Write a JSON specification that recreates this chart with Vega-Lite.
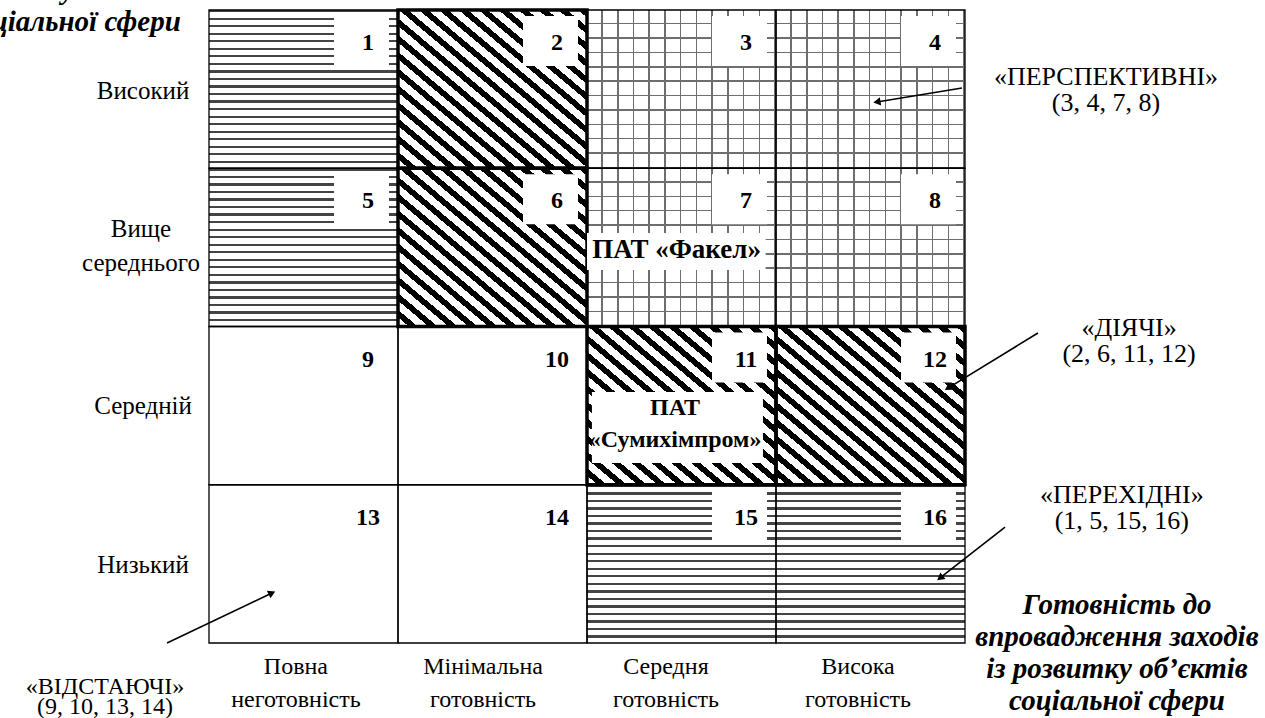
{
  "$schema": "https://vega.github.io/schema/vega-lite/v6.json",
  "width": 1265,
  "height": 718,
  "padding": 0,
  "autosize": "none",
  "background": "white",
  "config": {"view": {"stroke": null}, "text": {"font": "Liberation Serif", "fill": "#000"}},
  "datasets": {
    "cells": [
      {"n": 1, "c": 0, "c2": 1, "r": 0, "r2": 1, "g": "w"},
      {"n": 2, "c": 1, "c2": 2, "r": 0, "r2": 1, "g": "s"},
      {"n": 3, "c": 2, "c2": 3, "r": 0, "r2": 1, "g": "d"},
      {"n": 4, "c": 3, "c2": 4, "r": 0, "r2": 1, "g": "d"},
      {"n": 5, "c": 0, "c2": 1, "r": 1, "r2": 2, "g": "w"},
      {"n": 6, "c": 1, "c2": 2, "r": 1, "r2": 2, "g": "s"},
      {"n": 7, "c": 2, "c2": 3, "r": 1, "r2": 2, "g": "d"},
      {"n": 8, "c": 3, "c2": 4, "r": 1, "r2": 2, "g": "d"},
      {"n": 9, "c": 0, "c2": 1, "r": 2, "r2": 3, "g": "p"},
      {"n": 10, "c": 1, "c2": 2, "r": 2, "r2": 3, "g": "p"},
      {"n": 11, "c": 2, "c2": 3, "r": 2, "r2": 3, "g": "s"},
      {"n": 12, "c": 3, "c2": 4, "r": 2, "r2": 3, "g": "s"},
      {"n": 13, "c": 0, "c2": 1, "r": 3, "r2": 4, "g": "p"},
      {"n": 14, "c": 1, "c2": 2, "r": 3, "r2": 4, "g": "p"},
      {"n": 15, "c": 2, "c2": 3, "r": 3, "r2": 4, "g": "w"},
      {"n": 16, "c": 3, "c2": 4, "r": 3, "r2": 4, "g": "w"}
    ],
    "companies": [
      {"k": "f", "name": "ПАТ «Факел»", "x": 2.474, "y": 1.517, "bx": 2.0, "bx2": 2.945, "by": 1.409, "by2": 1.643},
      {"k": "s", "name": "ПАТ\n«Сумихімпром»", "x": 2.466, "y": 2.515, "bx": 2.026, "bx2": 2.931, "by": 2.414, "by2": 2.863}
    ],
    "rowlabels": [
      {"t": "Високий", "x": -0.349, "y": 0.51},
      {"t": "Вище\nсереднього", "x": -0.36, "y": 1.384},
      {"t": "Середній", "x": -0.349, "y": 2.5},
      {"t": "Низький", "x": -0.349, "y": 3.505}
    ],
    "collabels": [
      {"t": "Повна\nнеготовність", "x": 0.46, "y": 4.152},
      {"t": "Мінімальна\nготовність", "x": 1.45, "y": 4.152},
      {"t": "Середня\nготовність", "x": 2.418, "y": 4.152},
      {"t": "Висока\nготовність", "x": 3.434, "y": 4.152}
    ],
    "notes": [
      {"k": "a", "t": "«ПЕРСПЕКТИВНІ»\n(3, 4, 7, 8)", "x": 4.746, "y": 0.4234},
      {"k": "a", "t": "«ДІЯЧІ»\n(2, 6, 11, 12)", "x": 4.868, "y": 2.009},
      {"k": "a", "t": "«ПЕРЕХІДНІ»\n(1, 5, 15, 16)", "x": 4.83, "y": 3.065},
      {"k": "b", "t": "«ВІДСТАЮЧІ»\n(9, 10, 13, 14)", "x": -0.55, "y": 4.278}
    ],
    "titles": [
      {"t": "Рівень\nрозвитку об’єктів\nсоціальної сфери", "x": -0.72, "y": -0.3286},
      {"t": "Готовність до\nвпровадження заходів\nіз розвитку об’єктів\nсоціальної сфери", "x": 4.804, "y": 3.76}
    ],
    "arrows": [
      {"id": "p", "x": 3.984, "y": 0.4929, "x2": 3.534, "y2": 0.5814},
      {"id": "d", "x": 4.386, "y": 2.041, "x2": 3.91, "y2": 2.389},
      {"id": "t", "x": 4.212, "y": 3.267, "x2": 3.868, "y2": 3.589},
      {"id": "v", "x": -0.222, "y": 4.0, "x2": 0.333, "y2": 3.684}
    ]
  },
  "layer": [
    {
      "data": {"name": "cells"},
      "transform": [{"filter": "datum.g == 'w'"}],
      "mark": {"type": "rect", "stroke": null, "fill": {"gradient": "linear", "x1": 0, "y1": 0, "x2": 0, "y2": 1, "stops": [
        {"offset": 0, "color": "#444"}, {"offset": 0.0143, "color": "#444"}, {"offset": 0.0143, "color": "#fff"}, {"offset": 0.0476, "color": "#fff"},
        {"offset": 0.0476, "color": "#444"}, {"offset": 0.0619, "color": "#444"}, {"offset": 0.0619, "color": "#fff"}, {"offset": 0.0952, "color": "#fff"},
        {"offset": 0.0952, "color": "#444"}, {"offset": 0.1095, "color": "#444"}, {"offset": 0.1095, "color": "#fff"}, {"offset": 0.1429, "color": "#fff"},
        {"offset": 0.1429, "color": "#444"}, {"offset": 0.1571, "color": "#444"}, {"offset": 0.1571, "color": "#fff"}, {"offset": 0.1905, "color": "#fff"},
        {"offset": 0.1905, "color": "#444"}, {"offset": 0.2048, "color": "#444"}, {"offset": 0.2048, "color": "#fff"}, {"offset": 0.2381, "color": "#fff"},
        {"offset": 0.2381, "color": "#444"}, {"offset": 0.2524, "color": "#444"}, {"offset": 0.2524, "color": "#fff"}, {"offset": 0.2857, "color": "#fff"},
        {"offset": 0.2857, "color": "#444"}, {"offset": 0.3, "color": "#444"}, {"offset": 0.3, "color": "#fff"}, {"offset": 0.3333, "color": "#fff"},
        {"offset": 0.3333, "color": "#444"}, {"offset": 0.3476, "color": "#444"}, {"offset": 0.3476, "color": "#fff"}, {"offset": 0.381, "color": "#fff"},
        {"offset": 0.381, "color": "#444"}, {"offset": 0.3952, "color": "#444"}, {"offset": 0.3952, "color": "#fff"}, {"offset": 0.4286, "color": "#fff"},
        {"offset": 0.4286, "color": "#444"}, {"offset": 0.4429, "color": "#444"}, {"offset": 0.4429, "color": "#fff"}, {"offset": 0.4762, "color": "#fff"},
        {"offset": 0.4762, "color": "#444"}, {"offset": 0.4905, "color": "#444"}, {"offset": 0.4905, "color": "#fff"}, {"offset": 0.5238, "color": "#fff"},
        {"offset": 0.5238, "color": "#444"}, {"offset": 0.5381, "color": "#444"}, {"offset": 0.5381, "color": "#fff"}, {"offset": 0.5714, "color": "#fff"},
        {"offset": 0.5714, "color": "#444"}, {"offset": 0.5857, "color": "#444"}, {"offset": 0.5857, "color": "#fff"}, {"offset": 0.619, "color": "#fff"},
        {"offset": 0.619, "color": "#444"}, {"offset": 0.6333, "color": "#444"}, {"offset": 0.6333, "color": "#fff"}, {"offset": 0.6667, "color": "#fff"},
        {"offset": 0.6667, "color": "#444"}, {"offset": 0.681, "color": "#444"}, {"offset": 0.681, "color": "#fff"}, {"offset": 0.7143, "color": "#fff"},
        {"offset": 0.7143, "color": "#444"}, {"offset": 0.7286, "color": "#444"}, {"offset": 0.7286, "color": "#fff"}, {"offset": 0.7619, "color": "#fff"},
        {"offset": 0.7619, "color": "#444"}, {"offset": 0.7762, "color": "#444"}, {"offset": 0.7762, "color": "#fff"}, {"offset": 0.8095, "color": "#fff"},
        {"offset": 0.8095, "color": "#444"}, {"offset": 0.8238, "color": "#444"}, {"offset": 0.8238, "color": "#fff"}, {"offset": 0.8571, "color": "#fff"},
        {"offset": 0.8571, "color": "#444"}, {"offset": 0.8714, "color": "#444"}, {"offset": 0.8714, "color": "#fff"}, {"offset": 0.9048, "color": "#fff"},
        {"offset": 0.9048, "color": "#444"}, {"offset": 0.919, "color": "#444"}, {"offset": 0.919, "color": "#fff"}, {"offset": 0.9524, "color": "#fff"},
        {"offset": 0.9524, "color": "#444"}, {"offset": 0.9667, "color": "#444"}, {"offset": 0.9667, "color": "#fff"}, {"offset": 1, "color": "#fff"}
      ]}},
      "encoding": {
        "x": {"field": "c", "type": "quantitative", "scale": {"domain": [-1.1058, 5.5873], "nice": false, "zero": false}, "axis": null},
        "x2": {"field": "c2"},
        "y": {"field": "r", "type": "quantitative", "scale": {"domain": [-0.0632, 4.4739], "nice": false, "zero": false, "reverse": true}, "axis": null},
        "y2": {"field": "r2"}
      }
    },
    {
      "data": {"name": "cells"},
      "transform": [{"filter": "datum.g == 's'"}],
      "mark": {"type": "rect", "stroke": null, "fill": {"gradient": "linear", "x1": 1, "y1": 0, "x2": 0, "y2": 1, "stops": [
        {"offset": 0, "color": "#000"}, {"offset": 0.0237, "color": "#000"}, {"offset": 0.0237, "color": "#fff"}, {"offset": 0.0526, "color": "#fff"},
        {"offset": 0.0526, "color": "#000"}, {"offset": 0.0763, "color": "#000"}, {"offset": 0.0763, "color": "#fff"}, {"offset": 0.1053, "color": "#fff"},
        {"offset": 0.1053, "color": "#000"}, {"offset": 0.1289, "color": "#000"}, {"offset": 0.1289, "color": "#fff"}, {"offset": 0.1579, "color": "#fff"},
        {"offset": 0.1579, "color": "#000"}, {"offset": 0.1816, "color": "#000"}, {"offset": 0.1816, "color": "#fff"}, {"offset": 0.2105, "color": "#fff"},
        {"offset": 0.2105, "color": "#000"}, {"offset": 0.2342, "color": "#000"}, {"offset": 0.2342, "color": "#fff"}, {"offset": 0.2632, "color": "#fff"},
        {"offset": 0.2632, "color": "#000"}, {"offset": 0.2868, "color": "#000"}, {"offset": 0.2868, "color": "#fff"}, {"offset": 0.3158, "color": "#fff"},
        {"offset": 0.3158, "color": "#000"}, {"offset": 0.3395, "color": "#000"}, {"offset": 0.3395, "color": "#fff"}, {"offset": 0.3684, "color": "#fff"},
        {"offset": 0.3684, "color": "#000"}, {"offset": 0.3921, "color": "#000"}, {"offset": 0.3921, "color": "#fff"}, {"offset": 0.4211, "color": "#fff"},
        {"offset": 0.4211, "color": "#000"}, {"offset": 0.4447, "color": "#000"}, {"offset": 0.4447, "color": "#fff"}, {"offset": 0.4737, "color": "#fff"},
        {"offset": 0.4737, "color": "#000"}, {"offset": 0.4974, "color": "#000"}, {"offset": 0.4974, "color": "#fff"}, {"offset": 0.5263, "color": "#fff"},
        {"offset": 0.5263, "color": "#000"}, {"offset": 0.55, "color": "#000"}, {"offset": 0.55, "color": "#fff"}, {"offset": 0.5789, "color": "#fff"},
        {"offset": 0.5789, "color": "#000"}, {"offset": 0.6026, "color": "#000"}, {"offset": 0.6026, "color": "#fff"}, {"offset": 0.6316, "color": "#fff"},
        {"offset": 0.6316, "color": "#000"}, {"offset": 0.6553, "color": "#000"}, {"offset": 0.6553, "color": "#fff"}, {"offset": 0.6842, "color": "#fff"},
        {"offset": 0.6842, "color": "#000"}, {"offset": 0.7079, "color": "#000"}, {"offset": 0.7079, "color": "#fff"}, {"offset": 0.7368, "color": "#fff"},
        {"offset": 0.7368, "color": "#000"}, {"offset": 0.7605, "color": "#000"}, {"offset": 0.7605, "color": "#fff"}, {"offset": 0.7895, "color": "#fff"},
        {"offset": 0.7895, "color": "#000"}, {"offset": 0.8132, "color": "#000"}, {"offset": 0.8132, "color": "#fff"}, {"offset": 0.8421, "color": "#fff"},
        {"offset": 0.8421, "color": "#000"}, {"offset": 0.8658, "color": "#000"}, {"offset": 0.8658, "color": "#fff"}, {"offset": 0.8947, "color": "#fff"},
        {"offset": 0.8947, "color": "#000"}, {"offset": 0.9184, "color": "#000"}, {"offset": 0.9184, "color": "#fff"}, {"offset": 0.9474, "color": "#fff"},
        {"offset": 0.9474, "color": "#000"}, {"offset": 0.9711, "color": "#000"}, {"offset": 0.9711, "color": "#fff"}, {"offset": 1, "color": "#fff"}
      ]}},
      "encoding": {
        "x": {"field": "c", "type": "quantitative", "scale": {"domain": [-1.1058, 5.5873], "nice": false, "zero": false}, "axis": null},
        "x2": {"field": "c2"},
        "y": {"field": "r", "type": "quantitative", "scale": {"domain": [-0.0632, 4.4739], "nice": false, "zero": false, "reverse": true}, "axis": null},
        "y2": {"field": "r2"}
      }
    },
    {
      "data": {"name": "cells"},
      "transform": [{"filter": "datum.g == 'd'"}],
      "mark": {"type": "rect", "stroke": null, "fill": {"gradient": "linear", "x1": 0, "y1": 0, "x2": 1, "y2": 0, "stops": [
        {"offset": 0, "color": "#fff"}, {"offset": 0.075, "color": "#fff"}, {"offset": 0.075, "color": "#6e6e6e"}, {"offset": 0.0833, "color": "#6e6e6e"},
        {"offset": 0.0833, "color": "#fff"}, {"offset": 0.1583, "color": "#fff"}, {"offset": 0.1583, "color": "#6e6e6e"}, {"offset": 0.1667, "color": "#6e6e6e"},
        {"offset": 0.1667, "color": "#fff"}, {"offset": 0.2417, "color": "#fff"}, {"offset": 0.2417, "color": "#6e6e6e"}, {"offset": 0.25, "color": "#6e6e6e"},
        {"offset": 0.25, "color": "#fff"}, {"offset": 0.325, "color": "#fff"}, {"offset": 0.325, "color": "#6e6e6e"}, {"offset": 0.3333, "color": "#6e6e6e"},
        {"offset": 0.3333, "color": "#fff"}, {"offset": 0.4083, "color": "#fff"}, {"offset": 0.4083, "color": "#6e6e6e"}, {"offset": 0.4167, "color": "#6e6e6e"},
        {"offset": 0.4167, "color": "#fff"}, {"offset": 0.4917, "color": "#fff"}, {"offset": 0.4917, "color": "#6e6e6e"}, {"offset": 0.5, "color": "#6e6e6e"},
        {"offset": 0.5, "color": "#fff"}, {"offset": 0.575, "color": "#fff"}, {"offset": 0.575, "color": "#6e6e6e"}, {"offset": 0.5833, "color": "#6e6e6e"},
        {"offset": 0.5833, "color": "#fff"}, {"offset": 0.6583, "color": "#fff"}, {"offset": 0.6583, "color": "#6e6e6e"}, {"offset": 0.6667, "color": "#6e6e6e"},
        {"offset": 0.6667, "color": "#fff"}, {"offset": 0.7417, "color": "#fff"}, {"offset": 0.7417, "color": "#6e6e6e"}, {"offset": 0.75, "color": "#6e6e6e"},
        {"offset": 0.75, "color": "#fff"}, {"offset": 0.825, "color": "#fff"}, {"offset": 0.825, "color": "#6e6e6e"}, {"offset": 0.8333, "color": "#6e6e6e"},
        {"offset": 0.8333, "color": "#fff"}, {"offset": 0.9083, "color": "#fff"}, {"offset": 0.9083, "color": "#6e6e6e"}, {"offset": 0.9167, "color": "#6e6e6e"},
        {"offset": 0.9167, "color": "#fff"}, {"offset": 0.9917, "color": "#fff"}, {"offset": 0.9917, "color": "#6e6e6e"}, {"offset": 1, "color": "#6e6e6e"}
      ]}},
      "encoding": {
        "x": {"field": "c", "type": "quantitative", "scale": {"domain": [-1.1058, 5.5873], "nice": false, "zero": false}, "axis": null},
        "x2": {"field": "c2"},
        "y": {"field": "r", "type": "quantitative", "scale": {"domain": [-0.0632, 4.4739], "nice": false, "zero": false, "reverse": true}, "axis": null},
        "y2": {"field": "r2"}
      }
    },
    {
      "data": {"name": "cells"},
      "transform": [{"filter": "datum.g == 'd'"}],
      "mark": {"type": "rect", "stroke": null, "fill": {"gradient": "linear", "x1": 0, "y1": 0, "x2": 0, "y2": 1, "stops": [
        {"offset": 0, "color": "rgba(255,255,255,0)"}, {"offset": 0.0814, "color": "rgba(255,255,255,0)"}, {"offset": 0.0814, "color": "#6e6e6e"}, {"offset": 0.0909, "color": "#6e6e6e"},
        {"offset": 0.0909, "color": "rgba(255,255,255,0)"}, {"offset": 0.1723, "color": "rgba(255,255,255,0)"}, {"offset": 0.1723, "color": "#6e6e6e"}, {"offset": 0.1818, "color": "#6e6e6e"},
        {"offset": 0.1818, "color": "rgba(255,255,255,0)"}, {"offset": 0.2632, "color": "rgba(255,255,255,0)"}, {"offset": 0.2632, "color": "#6e6e6e"}, {"offset": 0.2727, "color": "#6e6e6e"},
        {"offset": 0.2727, "color": "rgba(255,255,255,0)"}, {"offset": 0.3541, "color": "rgba(255,255,255,0)"}, {"offset": 0.3541, "color": "#6e6e6e"}, {"offset": 0.3636, "color": "#6e6e6e"},
        {"offset": 0.3636, "color": "rgba(255,255,255,0)"}, {"offset": 0.445, "color": "rgba(255,255,255,0)"}, {"offset": 0.445, "color": "#6e6e6e"}, {"offset": 0.4545, "color": "#6e6e6e"},
        {"offset": 0.4545, "color": "rgba(255,255,255,0)"}, {"offset": 0.5359, "color": "rgba(255,255,255,0)"}, {"offset": 0.5359, "color": "#6e6e6e"}, {"offset": 0.5455, "color": "#6e6e6e"},
        {"offset": 0.5455, "color": "rgba(255,255,255,0)"}, {"offset": 0.6268, "color": "rgba(255,255,255,0)"}, {"offset": 0.6268, "color": "#6e6e6e"}, {"offset": 0.6364, "color": "#6e6e6e"},
        {"offset": 0.6364, "color": "rgba(255,255,255,0)"}, {"offset": 0.7177, "color": "rgba(255,255,255,0)"}, {"offset": 0.7177, "color": "#6e6e6e"}, {"offset": 0.7273, "color": "#6e6e6e"},
        {"offset": 0.7273, "color": "rgba(255,255,255,0)"}, {"offset": 0.8086, "color": "rgba(255,255,255,0)"}, {"offset": 0.8086, "color": "#6e6e6e"}, {"offset": 0.8182, "color": "#6e6e6e"},
        {"offset": 0.8182, "color": "rgba(255,255,255,0)"}, {"offset": 0.8995, "color": "rgba(255,255,255,0)"}, {"offset": 0.8995, "color": "#6e6e6e"}, {"offset": 0.9091, "color": "#6e6e6e"},
        {"offset": 0.9091, "color": "rgba(255,255,255,0)"}, {"offset": 0.9905, "color": "rgba(255,255,255,0)"}, {"offset": 0.9905, "color": "#6e6e6e"}, {"offset": 1, "color": "#6e6e6e"}
      ]}},
      "encoding": {
        "x": {"field": "c", "type": "quantitative", "scale": {"domain": [-1.1058, 5.5873], "nice": false, "zero": false}, "axis": null},
        "x2": {"field": "c2"},
        "y": {"field": "r", "type": "quantitative", "scale": {"domain": [-0.0632, 4.4739], "nice": false, "zero": false, "reverse": true}, "axis": null},
        "y2": {"field": "r2"}
      }
    },
    {
      "data": {"name": "cells"},
      "mark": {"type": "rect", "fill": null, "fillOpacity": 0, "stroke": "#000", "strokeWidth": 1.3},
      "encoding": {
        "x": {"field": "c", "type": "quantitative", "scale": {"domain": [-1.1058, 5.5873], "nice": false, "zero": false}, "axis": null},
        "x2": {"field": "c2"},
        "y": {"field": "r", "type": "quantitative", "scale": {"domain": [-0.0632, 4.4739], "nice": false, "zero": false, "reverse": true}, "axis": null},
        "y2": {"field": "r2"}
      }
    },
    {
      "data": {"name": "cells"},
      "transform": [{"filter": "datum.g == 's'"}],
      "mark": {"type": "rect", "fill": null, "fillOpacity": 0, "stroke": "#000", "strokeWidth": 3.5},
      "encoding": {
        "x": {"field": "c", "type": "quantitative", "scale": {"domain": [-1.1058, 5.5873], "nice": false, "zero": false}, "axis": null},
        "x2": {"field": "c2"},
        "y": {"field": "r", "type": "quantitative", "scale": {"domain": [-0.0632, 4.4739], "nice": false, "zero": false, "reverse": true}, "axis": null},
        "y2": {"field": "r2"}
      }
    },
    {
      "data": {"name": "cells"},
      "transform": [{"filter": "datum.g != 'p'"}],
      "mark": {"type": "rect", "fill": "#fff", "stroke": null, "xOffset": -64, "x2Offset": -9, "yOffset": 6, "y2Offset": 56},
      "encoding": {
        "x": {"field": "c2", "type": "quantitative", "scale": {"domain": [-1.1058, 5.5873], "nice": false, "zero": false}, "axis": null},
        "x2": {"field": "c2"},
        "y": {"field": "r", "type": "quantitative", "scale": {"domain": [-0.0632, 4.4739], "nice": false, "zero": false, "reverse": true}, "axis": null},
        "y2": {"field": "r"}
      }
    },
    {
      "data": {"name": "companies"},
      "mark": {"type": "rect", "fill": "#fff", "stroke": null},
      "encoding": {
        "x": {"field": "bx", "type": "quantitative", "scale": {"domain": [-1.1058, 5.5873], "nice": false, "zero": false}, "axis": null},
        "x2": {"field": "bx2"},
        "y": {"field": "by", "type": "quantitative", "scale": {"domain": [-0.0632, 4.4739], "nice": false, "zero": false, "reverse": true}, "axis": null},
        "y2": {"field": "by2"}
      }
    },
    {
      "data": {"name": "cells"},
      "mark": {"type": "text", "align": "center", "baseline": "middle", "dx": -30, "dy": 33, "fontSize": 24, "fontWeight": "bold"},
      "encoding": {
        "x": {"field": "c2", "type": "quantitative", "scale": {"domain": [-1.1058, 5.5873], "nice": false, "zero": false}, "axis": null},
        "y": {"field": "r", "type": "quantitative", "scale": {"domain": [-0.0632, 4.4739], "nice": false, "zero": false, "reverse": true}, "axis": null},
        "text": {"field": "n"}
      }
    },
    {
      "data": {"name": "companies"},
      "transform": [{"filter": "datum.k == 'f'"}],
      "mark": {"type": "text", "align": "center", "baseline": "middle", "fontSize": 27, "fontWeight": "bold", "lineBreak": "\n"},
      "encoding": {
        "x": {"field": "x", "type": "quantitative", "scale": {"domain": [-1.1058, 5.5873], "nice": false, "zero": false}, "axis": null},
        "y": {"field": "y", "type": "quantitative", "scale": {"domain": [-0.0632, 4.4739], "nice": false, "zero": false, "reverse": true}, "axis": null},
        "text": {"field": "name"}
      }
    },
    {
      "data": {"name": "companies"},
      "transform": [{"filter": "datum.k == 's'"}],
      "mark": {"type": "text", "align": "center", "baseline": "middle", "fontSize": 24, "fontWeight": "bold", "lineBreak": "\n", "lineHeight": 32},
      "encoding": {
        "x": {"field": "x", "type": "quantitative", "scale": {"domain": [-1.1058, 5.5873], "nice": false, "zero": false}, "axis": null},
        "y": {"field": "y", "type": "quantitative", "scale": {"domain": [-0.0632, 4.4739], "nice": false, "zero": false, "reverse": true}, "axis": null},
        "text": {"field": "name"}
      }
    },
    {
      "data": {"name": "rowlabels"},
      "mark": {"type": "text", "align": "center", "baseline": "middle", "fontSize": 25, "lineBreak": "\n", "lineHeight": 34},
      "encoding": {
        "x": {"field": "x", "type": "quantitative", "scale": {"domain": [-1.1058, 5.5873], "nice": false, "zero": false}, "axis": null},
        "y": {"field": "y", "type": "quantitative", "scale": {"domain": [-0.0632, 4.4739], "nice": false, "zero": false, "reverse": true}, "axis": null},
        "text": {"field": "t"}
      }
    },
    {
      "data": {"name": "collabels"},
      "mark": {"type": "text", "align": "center", "baseline": "middle", "fontSize": 24, "lineBreak": "\n", "lineHeight": 33},
      "encoding": {
        "x": {"field": "x", "type": "quantitative", "scale": {"domain": [-1.1058, 5.5873], "nice": false, "zero": false}, "axis": null},
        "y": {"field": "y", "type": "quantitative", "scale": {"domain": [-0.0632, 4.4739], "nice": false, "zero": false, "reverse": true}, "axis": null},
        "text": {"field": "t"}
      }
    },
    {
      "data": {"name": "notes"},
      "transform": [{"filter": "datum.k == 'a'"}],
      "mark": {"type": "text", "align": "center", "baseline": "middle", "fontSize": 26, "lineBreak": "\n", "lineHeight": 26},
      "encoding": {
        "x": {"field": "x", "type": "quantitative", "scale": {"domain": [-1.1058, 5.5873], "nice": false, "zero": false}, "axis": null},
        "y": {"field": "y", "type": "quantitative", "scale": {"domain": [-0.0632, 4.4739], "nice": false, "zero": false, "reverse": true}, "axis": null},
        "text": {"field": "t"}
      }
    },
    {
      "data": {"name": "notes"},
      "transform": [{"filter": "datum.k == 'b'"}],
      "mark": {"type": "text", "align": "center", "baseline": "middle", "fontSize": 24, "lineBreak": "\n", "lineHeight": 20},
      "encoding": {
        "x": {"field": "x", "type": "quantitative", "scale": {"domain": [-1.1058, 5.5873], "nice": false, "zero": false}, "axis": null},
        "y": {"field": "y", "type": "quantitative", "scale": {"domain": [-0.0632, 4.4739], "nice": false, "zero": false, "reverse": true}, "axis": null},
        "text": {"field": "t"}
      }
    },
    {
      "data": {"name": "titles"},
      "mark": {"type": "text", "align": "center", "baseline": "middle", "fontSize": 29, "fontWeight": "bold", "fontStyle": "italic", "lineBreak": "\n", "lineHeight": 32},
      "encoding": {
        "x": {"field": "x", "type": "quantitative", "scale": {"domain": [-1.1058, 5.5873], "nice": false, "zero": false}, "axis": null},
        "y": {"field": "y", "type": "quantitative", "scale": {"domain": [-0.0632, 4.4739], "nice": false, "zero": false, "reverse": true}, "axis": null},
        "text": {"field": "t"}
      }
    },
    {
      "data": {"name": "arrows"},
      "mark": {"type": "rule", "stroke": "#000", "strokeWidth": 1.6},
      "encoding": {
        "x": {"field": "x", "type": "quantitative", "scale": {"domain": [-1.1058, 5.5873], "nice": false, "zero": false}, "axis": null},
        "x2": {"field": "x2"},
        "y": {"field": "y", "type": "quantitative", "scale": {"domain": [-0.0632, 4.4739], "nice": false, "zero": false, "reverse": true}, "axis": null},
        "y2": {"field": "y2"}
      }
    },
    {
      "data": {"name": "arrows"},
      "transform": [{"filter": "datum.id == 'p'"}],
      "mark": {"type": "point", "shape": "triangle-up", "filled": true, "color": "#000", "opacity": 1, "size": 70, "angle": 261},
      "encoding": {
        "x": {"field": "x2", "type": "quantitative", "scale": {"domain": [-1.1058, 5.5873], "nice": false, "zero": false}, "axis": null},
        "y": {"field": "y2", "type": "quantitative", "scale": {"domain": [-0.0632, 4.4739], "nice": false, "zero": false, "reverse": true}, "axis": null}
      }
    },
    {
      "data": {"name": "arrows"},
      "transform": [{"filter": "datum.id == 'd'"}],
      "mark": {"type": "point", "shape": "triangle-up", "filled": true, "color": "#000", "opacity": 1, "size": 70, "angle": 239},
      "encoding": {
        "x": {"field": "x2", "type": "quantitative", "scale": {"domain": [-1.1058, 5.5873], "nice": false, "zero": false}, "axis": null},
        "y": {"field": "y2", "type": "quantitative", "scale": {"domain": [-0.0632, 4.4739], "nice": false, "zero": false, "reverse": true}, "axis": null}
      }
    },
    {
      "data": {"name": "arrows"},
      "transform": [{"filter": "datum.id == 't'"}],
      "mark": {"type": "point", "shape": "triangle-up", "filled": true, "color": "#000", "opacity": 1, "size": 70, "angle": 232},
      "encoding": {
        "x": {"field": "x2", "type": "quantitative", "scale": {"domain": [-1.1058, 5.5873], "nice": false, "zero": false}, "axis": null},
        "y": {"field": "y2", "type": "quantitative", "scale": {"domain": [-0.0632, 4.4739], "nice": false, "zero": false, "reverse": true}, "axis": null}
      }
    },
    {
      "data": {"name": "arrows"},
      "transform": [{"filter": "datum.id == 'v'"}],
      "mark": {"type": "point", "shape": "triangle-up", "filled": true, "color": "#000", "opacity": 1, "size": 70, "angle": 64.5},
      "encoding": {
        "x": {"field": "x2", "type": "quantitative", "scale": {"domain": [-1.1058, 5.5873], "nice": false, "zero": false}, "axis": null},
        "y": {"field": "y2", "type": "quantitative", "scale": {"domain": [-0.0632, 4.4739], "nice": false, "zero": false, "reverse": true}, "axis": null}
      }
    }
  ]
}
